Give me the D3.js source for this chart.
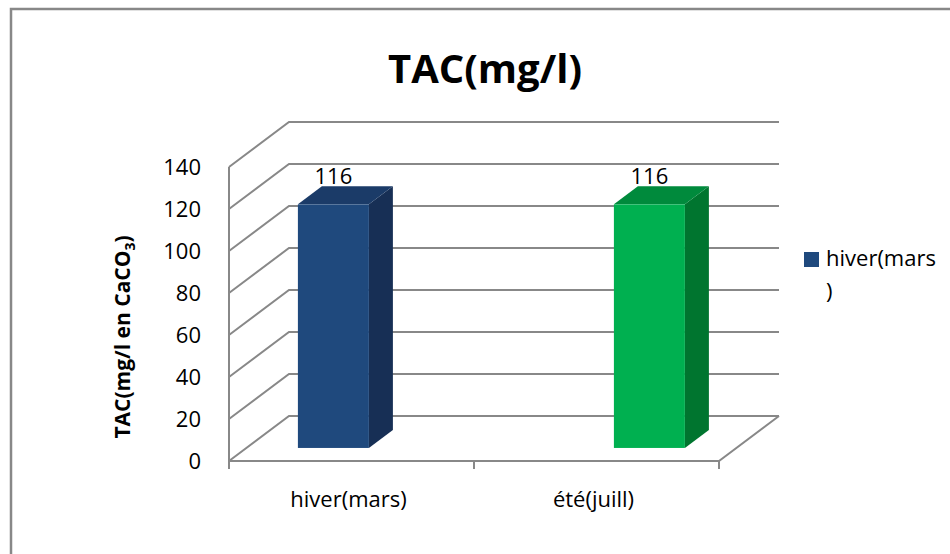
<!DOCTYPE html>
<html>
<head>
<meta charset="utf-8">
<script src="https://cdn.jsdelivr.net/npm/d3@7"></script>
<style>
  html, body { margin: 0; padding: 0; background: #fff; }
  svg { display: block; font-family: "Open Sans", "Noto Sans", sans-serif; }
</style>
</head>
<body>
<svg id="chart" width="950" height="554"></svg>
<script>
// Chart data
const categories = ["hiver(mars)", "été(juill)"];
const values = [116, 116];
const legendLabels = ["hiver(mars", ")"];   // series name, wrapped over two lines
const yTicks = [0, 20, 40, 60, 80, 100, 120, 140];
const chartTitle = "TAC(mg/l)";

// Bar face colours: front, side, top
const faceColors = [
  { front: "#1f497d", side: "#172f55", top: "#1b3b68" },
  { front: "#00b050", side: "#00752f", top: "#008a3c" }
];

const svg = d3.select("#chart");
const gridColor = "#888888";

// Outer frame (runs off the right and bottom of the view)
svg.append("rect")
  .attr("x", 11).attr("y", 9)
  .attr("width", 1000).attr("height", 1000)
  .attr("fill", "#fff")
  .attr("stroke", gridColor).attr("stroke-width", 2.5);

// 3D box geometry: front plane and depth offset
const left = 229, right = 719;
const depthX = 60, depthY = -45;
const y = d3.scaleLinear().domain([0, 140]).range([461, 167]);
const x = d3.scaleBand().domain(categories).range([left, right]);
// bar centres on the front plane
const barCenter = d3.scalePoint().domain(categories).range([316, 632]);
const barWidth = 71;
const barFront = 0.29, barBack = 0.69;   // depth fraction of the bar faces

const proj = (px, py, d) => [px + d * depthX, py + d * depthY];
const line = d3.line();

const grid = svg.append("g")
  .attr("fill", "none")
  .attr("stroke", gridColor)
  .attr("stroke-width", 2);

// Side wall and back wall gridlines
yTicks.forEach(t => {
  const yy = y(t);
  const a = [left, yy], b = proj(left, yy, 1), c = proj(right, yy, 1);
  grid.append("path").attr("d", line([a, b, c]));
});

// Floor edges
grid.append("path").attr("d", line([[left, y(0)], [right, y(0)], proj(right, y(0), 1)]));

// Vertical axis line at the front of the side wall
grid.append("path").attr("d", line([[left, y(140)], [left, y(0) + 8]]));

// Category tick marks below the floor
const tickXs = [right, left + x.step()];
tickXs.forEach(tx => {
  grid.append("path").attr("d", line([[tx, y(0)], [tx, y(0) + 8]]));
});

// Bars
categories.forEach((cat, i) => {
  const v = values[i];
  const c = faceColors[i];
  const x0 = barCenter(cat) - barWidth / 2, x1 = x0 + barWidth;
  const yt = y(v), yb = y(0);
  const f = d => ([px, py]) => proj(px, py, d);
  const F = f(barFront), B = f(barBack);
  const g = svg.append("g");
  // side face
  g.append("path")
    .attr("d", line([F([x1, yt]), B([x1, yt]), B([x1, yb]), F([x1, yb])]) + "Z")
    .attr("fill", c.side);
  // top face
  g.append("path")
    .attr("d", line([F([x0, yt]), B([x0, yt]), B([x1, yt]), F([x1, yt])]) + "Z")
    .attr("fill", c.top);
  // front face
  const p0 = F([x0, yt]);
  const p1 = F([x1, yb]);
  g.append("rect")
    .attr("x", p0[0]).attr("y", p0[1])
    .attr("width", p1[0] - p0[0]).attr("height", p1[1] - p0[1])
    .attr("fill", c.front);
  // value label above the bar
  const lab = proj(barCenter(cat), yt, barBack);
  svg.append("text")
    .attr("x", proj(barCenter(cat), yt, barFront)[0])
    .attr("y", lab[1] - 2)
    .attr("text-anchor", "middle")
    .attr("font-size", 22)
    .attr("fill", "#000")
    .text(v);
});

// Y tick labels
svg.append("g").selectAll("text")
  .data(yTicks)
  .join("text")
  .attr("x", 201)
  .attr("y", d => y(d))
  .attr("dy", "0.35em")
  .attr("text-anchor", "end")
  .attr("font-size", 22)
  .attr("fill", "#000")
  .text(d => d);

// Category labels
svg.append("g").selectAll("text")
  .data(categories)
  .join("text")
  .attr("x", d => x(d) + x.bandwidth() / 2 - 3)
  .attr("y", 507)
  .attr("text-anchor", "middle")
  .attr("font-size", 22)
  .attr("fill", "#000")
  .text(d => d);

// Title
svg.append("text")
  .attr("x", 485)
  .attr("y", 83)
  .attr("text-anchor", "middle")
  .attr("font-size", 40)
  .attr("font-weight", "bold")
  .attr("fill", "#000")
  .text(chartTitle);

// Y axis title with subscript
const yt = svg.append("text")
  .attr("transform", "translate(130,337) rotate(-90)")
  .attr("text-anchor", "middle")
  .attr("font-size", 21)
  .attr("font-weight", "bold")
  .attr("fill", "#000");
yt.append("tspan").text("TAC(mg/l en CaCO");
yt.append("tspan").attr("font-size", 14).attr("dy", 5).text("3");
yt.append("tspan").attr("dy", -5).text(")");

// Legend
const lg = svg.append("g");
lg.append("rect")
  .attr("x", 804).attr("y", 252)
  .attr("width", 15).attr("height", 15)
  .attr("fill", faceColors[0].front);
lg.selectAll("text")
  .data(legendLabels)
  .join("text")
  .attr("x", 826)
  .attr("y", (d, i) => 266 + i * 33)
  .attr("font-size", 22)
  .attr("fill", "#000")
  .text(d => d);
</script>
</body>
</html>
